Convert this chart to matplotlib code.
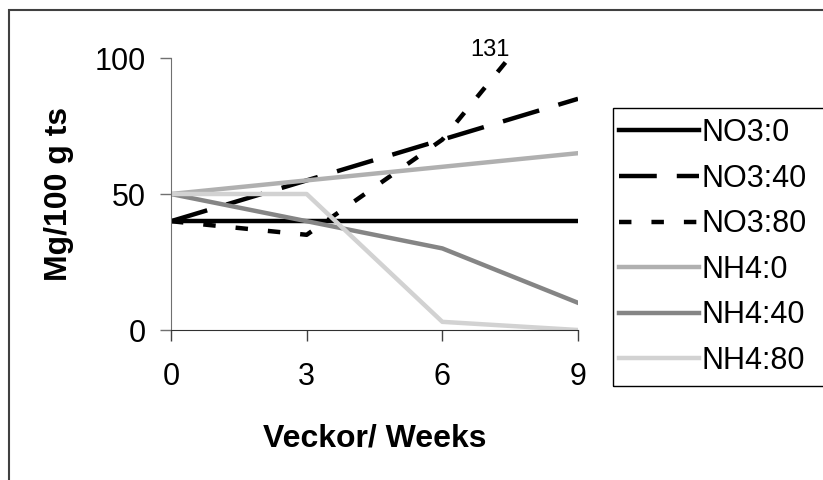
import matplotlib
matplotlib.use("Agg")
import matplotlib.pyplot as plt
from matplotlib.patches import Rectangle

plt.rcParams['font.family'] = ['Liberation Sans', 'DejaVu Sans']

# data
weeks = [0, 3, 6, 9]
no3_0 = [40, 40, 40, 40]
no3_40 = [40, 55, 70, 85]
no3_80 = [40, 35, 70, 131]
nh4_0 = [50, 55, 60, 65]
nh4_40 = [50, 40, 30, 10]
nh4_80 = [50, 50, 3, 0]
labels = ["NO3:0", "NO3:40", "NO3:80", "NH4:0", "NH4:40", "NH4:80"]
x_ticks = [0, 3, 6, 9]
y_ticks = [0, 50, 100]

W, H = 823, 480
fig = plt.figure(figsize=(W / 100, H / 100), dpi=100)
ax = fig.add_axes([171 / W, 1 - 330 / H, (578 - 171) / W, (330 - 58) / H])

lw = 3.2
ax.plot(weeks, no3_0, color="black", lw=lw, label=labels[0])
ax.plot(weeks, no3_40, color="black", lw=lw, dashes=(8.5, 4.5), label=labels[1])
ax.plot(weeks, no3_80, color="black", lw=lw, dashes=(2.8, 4.5), label=labels[2])
ax.plot(weeks, nh4_0, color="#b0b0b0", lw=lw, label=labels[3])
ax.plot(weeks, nh4_40, color="#858585", lw=lw, label=labels[4])
ax.plot(weeks, nh4_80, color="#d2d2d2", lw=lw, label=labels[5])

# value that runs off the top of the axis
ax.text(7.06, 103, str(no3_80[-1]), ha="center", va="center", fontsize=17)

ax.set_xlim(0, 9)
ax.set_ylim(0, 100)
ax.set_xticks(x_ticks)
ax.set_yticks(y_ticks)
ax.tick_params(axis="y", direction="out", length=8, width=1, color="#707070",
               pad=10, labelsize=22)
ax.tick_params(axis="x", direction="out", length=8, width=1, color="#404040",
               pad=15, labelsize=22)
for s in ["top", "right"]:
    ax.spines[s].set_visible(False)
ax.spines["left"].set_color("#707070")
ax.spines["bottom"].set_color("#303030")

ax.set_xlabel("Veckor/ Weeks", fontsize=23, fontweight="bold", labelpad=23)
ax.set_ylabel("Mg/100 g ts", fontsize=23, fontweight="bold", labelpad=15)

# outer chart frame and legend box (both run past the right edge)
fig.patches.append(Rectangle((9 / W, -0.1), 1.2, 1 - 10 / H + 0.1,
                             transform=fig.transFigure, fill=False,
                             edgecolor="#404040", lw=1.5))
fig.patches.append(Rectangle((613 / W, 1 - 386 / H), 0.5, (386 - 108) / H,
                             transform=fig.transFigure, fill=False,
                             edgecolor="black", lw=1))

leg = fig.legend(loc="upper left", bbox_to_anchor=(613 / W, 1 - 112 / H),
                 frameon=False, fontsize=22, handlelength=2.6,
                 handletextpad=0.1, labelspacing=0.51, borderaxespad=0,
                 borderpad=0.2)

fig.savefig("out.png", dpi=100)
